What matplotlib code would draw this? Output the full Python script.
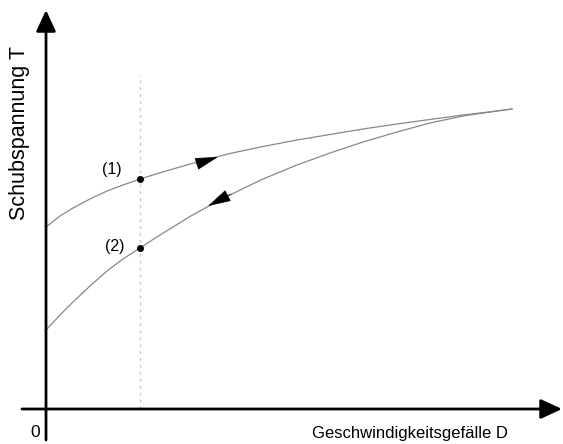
import matplotlib
matplotlib.use("Agg")
import matplotlib.pyplot as plt

plt.rcParams['font.family'] = ['Liberation Sans', 'DejaVu Sans']

# shear rate D and shear stress T (arbitrary units)
d_up = [0.0, 0.14, 0.27, 0.44, 0.61, 0.77, 0.94, 1.10, 1.27, 1.51, 1.84,
        2.17, 2.51, 2.84, 3.17, 3.51, 3.84, 4.17, 4.51, 4.66]
t_up = [1.82, 1.93, 2.01, 2.10, 2.18, 2.24, 2.30, 2.35, 2.40, 2.47, 2.555,
        2.625, 2.69, 2.745, 2.80, 2.85, 2.895, 2.94, 2.98, 3.00]
d_down = [0.0, 0.14, 0.27, 0.44, 0.61, 0.77, 0.94, 1.10, 1.27, 1.44, 1.61,
          1.94, 2.17, 2.51, 2.84, 3.17, 3.51, 3.84, 4.17, 4.51, 4.66]
t_down = [0.79, 0.94, 1.07, 1.23, 1.38, 1.50, 1.61, 1.715, 1.82, 1.925, 2.02,
          2.19, 2.30, 2.44, 2.56, 2.67, 2.77, 2.86, 2.93, 2.98, 3.00]

d_mark = 0.94
point_t = [2.30, 1.61]
point_labels = ['(1)', '(2)']

fig = plt.figure(figsize=(5.63, 4.44), dpi=100)
ax = fig.add_axes([0, 0, 1, 1])
ax.set_xlim(-0.46, 5.17)
ax.set_ylim(-0.35, 4.09)
ax.axis('off')

# coordinate axes with arrow heads
arrow = dict(arrowstyle='-|>,head_length=0.65,head_width=0.3', color='black',
             lw=2, shrinkA=0, shrinkB=0, mutation_scale=20)
ax.annotate('', xy=(5.16, 0), xytext=(-0.24, 0), arrowprops=arrow)
ax.annotate('', xy=(0, 3.99), xytext=(0, -0.31), arrowprops=arrow)

# dotted guide
ax.plot([d_mark, d_mark], [0, 3.34], color='#c8c8c8', lw=1, ls=(0, (2, 3)))

# hysteresis curves
ax.plot(d_up, t_up, color='#888888', lw=0.9)
ax.plot(d_down, t_down, color='#888888', lw=0.9)

# direction arrows on the curves
head = dict(arrowstyle='-|>,head_length=0.75,head_width=0.2', color='black',
            lw=0.5, shrinkA=0, shrinkB=0, mutation_scale=20)
ax.annotate('', xy=(1.72, 2.52), xytext=(1.50, 2.45), arrowprops=head)
ax.annotate('', xy=(1.62, 2.03), xytext=(1.85, 2.15), arrowprops=head)

# marked points
ax.plot([d_mark] * len(point_t), point_t, 'o', color='black', ms=4)
ax.text(0.66, 2.39, point_labels[0], fontsize=11.5, ha='center', va='center')
ax.text(0.69, 1.63, point_labels[1], fontsize=11.5, ha='center', va='center')

ax.text(-0.11, -0.23, '0', fontsize=12.5, ha='center', va='center')
ax.text(3.64, -0.24, 'Geschwindigkeitsgefälle D', fontsize=12, ha='center', va='center')
ax.text(-0.265, 2.76, 'Schubspannung T', fontsize=15.5, ha='center', va='center', rotation=90)

fig.savefig('out.png', dpi=100)
